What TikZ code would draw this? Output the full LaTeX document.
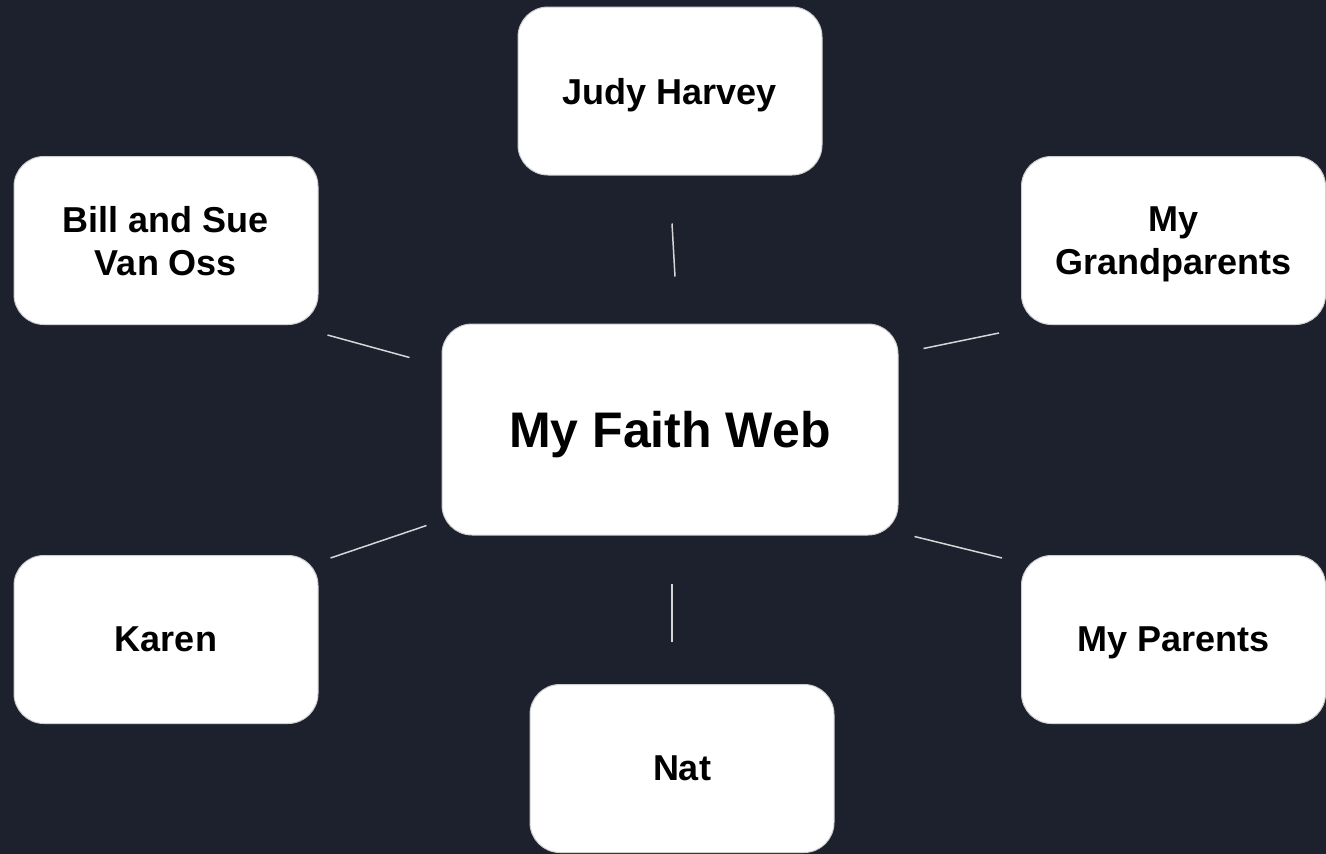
\documentclass[tikz,border=0pt]{standalone}
\usepackage{fontspec}
\setmainfont{Liberation Sans}
\usepackage{tikz}
\definecolor{night}{HTML}{1C212D}
\definecolor{rim}{HTML}{CFCFCF}
\definecolor{wire}{HTML}{D6D6D6}

\begin{document}
\begin{tikzpicture}[x=1pt,y=-1pt,
  card/.style={draw=rim, line width=1pt, fill=white, rounded corners=30pt, align=center,
    minimum width=304pt, minimum height=168pt, inner sep=0pt, text depth=0pt,
    font=\fontsize{36}{43}\selectfont\bfseries},
  wire/.style={draw=wire, line width=1.5pt}]
\fill[night] (0,0) rectangle (1326,854);
\useasboundingbox (0,0) rectangle (1326,854);
\node[card] (judy) at (670,91) {Judy Harvey};
\node[card] (bill) at (166,240.5) {Bill and Sue\\Van Oss};
\node[card] (grand) at (1173.5,240.5) {My\\Grandparents};
\node[card, minimum width=456pt, minimum height=211pt, font=\fontsize{50}{60}\selectfont\bfseries] (hub) at (670,429.5) {My Faith Web};
\node[card] (karen) at (166,639.5) {Karen};
\node[card] (parents) at (1173.5,639.5) {My Parents};
\node[card] (nat) at (682,768.5) {Nat};
\draw[wire] ([shift={(2,48)}]judy.south) -- ([shift={(5,-47)}]hub.north);
\draw[wire] ([shift={(9,10)}]bill.south east) -- ([shift={(-32,34)}]hub.north west);
\draw[wire] ([shift={(-22,8)}]grand.south west) -- ([shift={(25,25)}]hub.north east);
\draw[wire] ([shift={(12,3)}]karen.north east) -- ([shift={(-15,-10)}]hub.south west);
\draw[wire] ([shift={(-19,3)}]parents.north west) -- ([shift={(16,1)}]hub.south east);
\draw[wire] ([shift={(-10,-42)}]nat.north) -- ([shift={(2,48)}]hub.south);
\end{tikzpicture}
\end{document}
